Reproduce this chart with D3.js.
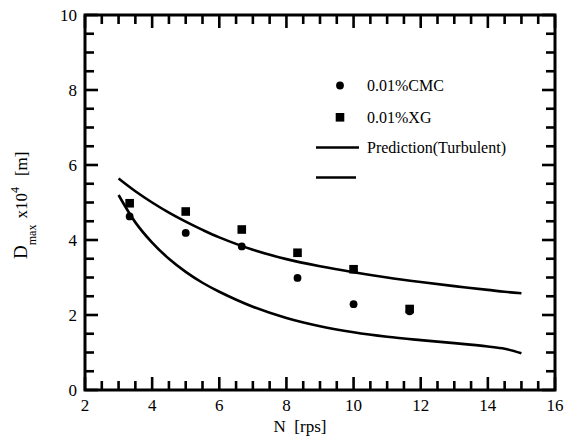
<!DOCTYPE html>
<html><head><meta charset="utf-8">
<script src="https://cdn.jsdelivr.net/npm/d3@7"></script>
<style>body{margin:0;background:#fff}svg{display:block}</style>
</head><body>
<script>
const nRps = [3.33, 5.0, 6.67, 8.33, 10.0, 11.67];
const cmc = [4.63, 4.19, 3.83, 2.99, 2.29, 2.10];
const xg = [4.98, 4.76, 4.28, 3.66, 3.22, 2.16];
const predX = [3, 3.5, 4, 4.5, 5, 5.5, 6, 7, 8, 9, 10, 11, 12, 13, 14, 14.5, 15];
const predUpper = [5.64, 5.30, 5.00, 4.73, 4.49, 4.27, 4.07, 3.74, 3.49, 3.30, 3.14, 3.00, 2.88, 2.77, 2.67, 2.62, 2.58];
const predLower = [5.20, 4.47, 3.93, 3.50, 3.15, 2.86, 2.62, 2.22, 1.92, 1.70, 1.54, 1.42, 1.33, 1.25, 1.16, 1.10, 0.98];
const xTicks = [2, 4, 6, 8, 10, 12, 14, 16];
const yTicks = [0, 2, 4, 6, 8, 10];
const legendLabels = ["0.01%CMC", "0.01%XG", "Prediction(Turbulent)", ""];

const FONT = "'Liberation Serif', 'DejaVu Serif', 'Times New Roman', Times, serif";
const W = 578, H = 444;
const L = 85, R = 555, T = 15, B = 390;
const svg = d3.select("body").append("svg").attr("width", W).attr("height", H)
  .attr("font-family", FONT);
const x = d3.scaleLinear().domain([2, 16]).range([L, R]);
const y = d3.scaleLinear().domain([0, 10]).range([B, T]);

const minorX = d3.range(2, 16.01, 0.5);
const minorY = d3.range(0, 10.01, 0.5);
const g = svg.append("g").attr("stroke", "#000").attr("stroke-width", 2.6);
function isMajor(v){ return Math.abs(v/2 - Math.round(v/2)) < 1e-6; }
minorX.forEach(v => {
  const len = isMajor(v) ? 13 : 9;
  g.append("line").attr("x1", x(v)).attr("x2", x(v)).attr("y1", B).attr("y2", B - len);
  g.append("line").attr("x1", x(v)).attr("x2", x(v)).attr("y1", T).attr("y2", T + len);
});
minorY.forEach(v => {
  const len = isMajor(v) ? 13 : 9;
  g.append("line").attr("y1", y(v)).attr("y2", y(v)).attr("x1", L).attr("x2", L + len);
  g.append("line").attr("y1", y(v)).attr("y2", y(v)).attr("x1", R).attr("x2", R - len);
});
svg.append("rect").attr("x", L).attr("y", T).attr("width", R - L).attr("height", B - T)
  .attr("fill", "none").attr("stroke", "#000").attr("stroke-width", 3);

function txt(sel){ return sel.attr("font-family", FONT).attr("fill", "#000"); }
xTicks.forEach(v => txt(svg.append("text")).attr("x", x(v)).attr("y", 411).attr("text-anchor", "middle")
  .attr("font-size", 17).text(v));
yTicks.forEach(v => txt(svg.append("text")).attr("x", 77).attr("y", y(v) + 6).attr("text-anchor", "end")
  .attr("font-size", 17).text(v));

txt(svg.append("text")).attr("x", 300).attr("y", 432).attr("text-anchor", "middle").attr("font-size", 17)
  .attr("xml:space", "preserve").text("N  [rps]");

const yt = txt(svg.append("text")).attr("transform", "translate(27,259) rotate(-90)").attr("font-size", 17);
yt.append("tspan").attr("font-size", 19).text("D");
yt.append("tspan").attr("font-size", 12).attr("dy", 9).text("max");
yt.append("tspan").attr("dy", -9).attr("dx", 6).text("x10");
yt.append("tspan").attr("font-size", 12).attr("dy", -8).text("4");
yt.append("tspan").attr("dy", 8).attr("dx", 11).text("[m]");

const line = d3.line().x((d, i) => x(predX[i])).y(d => y(d)).curve(d3.curveCatmullRom.alpha(0.5));
[predUpper, predLower].forEach(s => svg.append("path").attr("d", line(s))
  .attr("fill", "none").attr("stroke", "#000").attr("stroke-width", 2.6));

svg.selectAll(".sq").data(xg).enter().append("rect")
  .attr("x", (d, i) => x(nRps[i]) - 4.3).attr("y", d => y(d) - 4.3)
  .attr("width", 8.6).attr("height", 8.6).attr("fill", "#000");
svg.selectAll(".ci").data(cmc).enter().append("circle")
  .attr("cx", (d, i) => x(nRps[i])).attr("cy", d => y(d)).attr("r", 3.9).attr("fill", "#000");

// legend
svg.append("circle").attr("cx", 340).attr("cy", 85.5).attr("r", 3.9).attr("fill", "#000");
svg.append("rect").attr("x", 335.7).attr("y", 113).attr("width", 8.6).attr("height", 8.6).attr("fill", "#000");
svg.append("line").attr("x1", 316).attr("x2", 359).attr("y1", 147.5).attr("y2", 147.5).attr("stroke", "#000").attr("stroke-width", 2.6);
svg.append("line").attr("x1", 316).attr("x2", 356).attr("y1", 177.5).attr("y2", 177.5).attr("stroke", "#000").attr("stroke-width", 2.6);
[91, 123, 153].forEach((yy, i) => txt(svg.append("text")).attr("x", 367).attr("y", yy).attr("font-size", 16).text(legendLabels[i]));
</script>
</body></html>
